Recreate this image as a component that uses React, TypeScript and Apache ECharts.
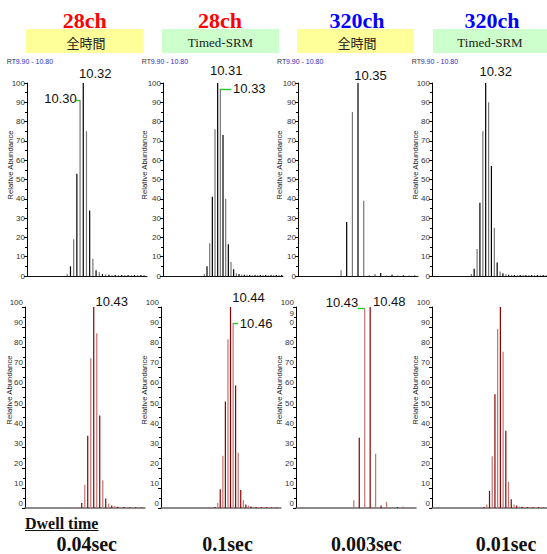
import React, { useEffect, useRef } from "react";
import * as echarts from "echarts";

// ---------- text ----------
const channelTitles = ["28ch", "28ch", "320ch", "320ch"];
const modeLabels = ["全時間", "Timed-SRM", "全時間", "Timed-SRM"];
const dwellTimes = ["0.04sec", "0.1sec", "0.003sec", "0.01sec"];
const dwellHeader = "Dwell time";
const rtRangeLabel = ["RT", "9.90 - 10.80"];
const yAxisName = "Relative Abundance";

// ---------- axes ----------
const rtRangeTop = [9.9, 10.8];
const rtRangeBottom = [9.8, 10.9];
const abundanceRange = [0, 100];
const abundanceStep = 10;

// ---------- data: top row ----------
const rtTop1 = [10.202, 10.226, 10.25, 10.274, 10.298, 10.322, 10.346, 10.37, 10.394, 10.418, 10.442, 10.466, 10.49, 10.514, 10.538, 10.562, 10.586, 10.61, 10.634, 10.658, 10.682, 10.706, 10.73, 10.754, 10.778];
const abTop1 = [1, 5, 19, 53, 91, 100, 75, 34, 9, 3, 2, 1, 0.8, 0.6, 0.5, 0.5, 0.5, 0.5, 0.5, 0.5, 0.5, 0.5, 0.5, 0.5, 0.5];

const rtTop2 = [10.21, 10.23, 10.25, 10.27, 10.29, 10.31, 10.33, 10.35, 10.37, 10.39, 10.41, 10.43, 10.45, 10.47, 10.49, 10.51, 10.53, 10.55, 10.57, 10.59, 10.61, 10.63, 10.65, 10.67, 10.69, 10.71, 10.73, 10.75, 10.77, 10.79];
const abTop2 = [1, 5, 17, 41, 76, 100, 97, 73, 40, 16.5, 7.3, 3.5, 1.4, 1, 0.8, 0.6, 0.6, 0.5, 0.5, 0.5, 0.5, 0.5, 0.5, 0.5, 0.5, 0.5, 0.5, 0.5, 0.5, 0.5];

const rtTop3 = [10.223, 10.265, 10.308, 10.35, 10.393, 10.435, 10.478, 10.52, 10.563, 10.605, 10.648, 10.69, 10.733, 10.775];
const abTop3 = [3, 28, 85, 100, 39, 0.3, 1, 1.5, 0.3, 0.6, 0.3, 0.4, 0.3, 0.3];

const rtTop4 = [10.208, 10.23, 10.253, 10.275, 10.298, 10.32, 10.343, 10.365, 10.388, 10.41, 10.433, 10.455, 10.478, 10.5, 10.523, 10.545, 10.568, 10.59, 10.613, 10.635, 10.658, 10.68, 10.703, 10.725, 10.748, 10.77, 10.793];
const abTop4 = [1, 3.8, 14, 38, 75, 100, 90, 57, 25, 7, 2.3, 1.4, 0.9, 0.7, 0.6, 0.5, 0.5, 0.5, 0.5, 0.5, 0.5, 0.5, 0.5, 0.5, 0.5, 0.5, 0.5];

// ---------- data: bottom row ----------
const rtBot1 = [10.293, 10.32, 10.348, 10.375, 10.403, 10.43, 10.458, 10.485, 10.513, 10.54, 10.568, 10.595, 10.623, 10.65, 10.678, 10.705, 10.733, 10.76, 10.788, 10.815, 10.843, 10.87];
const abBot1 = [0.5, 2.5, 11.6, 36, 74.5, 100, 87, 46, 13.8, 4.7, 2.2, 1.2, 1, 0.6, 0.5, 0.5, 0.4, 0.4, 0.4, 0.4, 0.3, 0.3];

const rtBot2 = [10.296, 10.32, 10.343, 10.367, 10.39, 10.414, 10.437, 10.461, 10.484, 10.508, 10.531, 10.555, 10.578, 10.602, 10.625, 10.649, 10.672, 10.696, 10.719, 10.743, 10.766, 10.79, 10.813, 10.837, 10.86];
const abBot2 = [0.5, 2.5, 9.3, 26, 53, 84, 100, 92, 61, 27.5, 9, 3.8, 1.8, 1.2, 0.8, 0.6, 0.5, 0.5, 0.4, 0.4, 0.4, 0.3, 0.3, 0.3, 0.3];

const rtBot3 = [10.33, 10.38, 10.43, 10.48, 10.53, 10.58, 10.63, 10.73, 10.78];
const abBot3 = [3.8, 35, 99.3, 100, 27, 1.2, 3, 0.5, 0.7];

const rtBot4 = [10.298, 10.324, 10.35, 10.376, 10.402, 10.428, 10.454, 10.48, 10.506, 10.532, 10.558, 10.584, 10.61, 10.636, 10.662, 10.688, 10.714, 10.74, 10.766, 10.792, 10.818, 10.844, 10.87];
const abBot4 = [0.5, 1.8, 8.5, 25.8, 56.6, 89, 100, 77.7, 38.4, 13, 4.3, 1.8, 1.2, 0.8, 0.6, 0.5, 0.5, 0.4, 0.4, 0.4, 0.4, 0.3, 0.3];

// ---------- peak labels (retention time of the labelled scan + text) ----------
const peaksTop1 = [{ rt: 10.322, text: "10.32" }, { rt: 10.298, text: "10.30" }];
const peaksTop2 = [{ rt: 10.31, text: "10.31" }, { rt: 10.33, text: "10.33" }];
const peaksTop3 = [{ rt: 10.35, text: "10.35" }];
const peaksTop4 = [{ rt: 10.32, text: "10.32" }];
const peaksBot1 = [{ rt: 10.43, text: "10.43" }];
const peaksBot2 = [{ rt: 10.437, text: "10.44" }, { rt: 10.461, text: "10.46" }];
const peaksBot3 = [{ rt: 10.48, text: "10.48" }, { rt: 10.43, text: "10.43" }];
const peaksBot4: { rt: number; text: string }[] = [];

// ---------- layout / style (pixels) ----------
const PLOT_W = 120;
const topLefts = [27, 163, 298, 432];
const botLefts = [25, 161, 296, 432];
const TOP_Y = 83, TOP_H = 193;
const BOT_Y = 307, BOT_H = 201;
// label offsets: [dx, dy, leaderPx] relative to bar top
const labelLayoutTop = [
  [[12, -10, 0], [-19.5, -2, -4]],
  [[8.5, -13, 0], [29, -0.5, 11]],
  [[12.5, -8, 0]],
  [[10, -12, 0]],
];
const labelLayoutBot = [
  [[18, -5.6, 0]],
  [[18, -10, 0], [23, 0.7, 5]],
  [[19, -6, 0], [-22.8, -5.6, -7]],
  [],
];
const titleCenters = [84.7, 220, 357, 492];
const titleColors = ["#ff0000", "#ff0000", "#0000ff", "#0000ff"];
const boxSpans = [[26, 143], [162, 279], [297, 414], [433, 547]];
const boxColors = ["#ffff99", "#ccffcc", "#ffff99", "#ccffcc"];
const rtLabelX = [6.7, 141.7, 277, 411.7];
const yNameXTop = [10.5, 144.5, 279.7, 415];
const yNameXBot = [9.5, 144, 279.7, 415.7];
const dwellCenters = [86.7, 227.5, 366.3, 506];

const SANS = "'Liberation Sans', Arial, sans-serif";
const SERIF = "'Liberation Serif', 'Times New Roman', serif";
const LEADER = "#22cc22";

export default function App() {
  const ref = useRef<HTMLDivElement>(null);

  useEffect(() => {
    document.body.style.margin = "0";
    if (!ref.current) return;
    const chart = echarts.init(ref.current, undefined, { renderer: "svg" });

    const panels = [
      { rt: rtTop1, ab: abTop1, peaks: peaksTop1, layout: labelLayoutTop[0], top: true, i: 0 },
      { rt: rtTop2, ab: abTop2, peaks: peaksTop2, layout: labelLayoutTop[1], top: true, i: 1 },
      { rt: rtTop3, ab: abTop3, peaks: peaksTop3, layout: labelLayoutTop[2], top: true, i: 2 },
      { rt: rtTop4, ab: abTop4, peaks: peaksTop4, layout: labelLayoutTop[3], top: true, i: 3 },
      { rt: rtBot1, ab: abBot1, peaks: peaksBot1, layout: labelLayoutBot[0], top: false, i: 0 },
      { rt: rtBot2, ab: abBot2, peaks: peaksBot2, layout: labelLayoutBot[1], top: false, i: 1 },
      { rt: rtBot3, ab: abBot3, peaks: peaksBot3, layout: labelLayoutBot[2], top: false, i: 2 },
      { rt: rtBot4, ab: abBot4, peaks: peaksBot4, layout: labelLayoutBot[3], top: false, i: 3 },
    ];

    const grid: any[] = [];
    const xAxis: any[] = [];
    const yAxis: any[] = [];
    const series: any[] = [];

    panels.forEach((p, idx) => {
      const range = p.top ? rtRangeTop : rtRangeBottom;
      const pxPerMin = PLOT_W / (range[1] - range[0]);
      grid.push({
        left: p.top ? topLefts[p.i] : botLefts[p.i],
        top: p.top ? TOP_Y : BOT_Y,
        width: PLOT_W,
        height: p.top ? TOP_H : BOT_H,
        containLabel: false,
      });
      xAxis.push({
        gridIndex: idx,
        type: "value",
        min: range[0],
        max: range[1],
        axisLine: {
          show: true,
          onZero: false,
          lineStyle: p.top ? { color: "#111", width: 1 } : { color: "#666", width: 1.5 },
        },
        axisTick: { show: false },
        axisLabel: { show: false },
        splitLine: { show: false },
      });
      const isOddPanel = !p.top && p.i === 2;
      yAxis.push({
        gridIndex: idx,
        type: "value",
        min: abundanceRange[0],
        max: abundanceRange[1],
        interval: abundanceStep,
        axisLine: { show: true, lineStyle: { color: "#000", width: 1 } },
        axisTick: { show: true, length: 3, lineStyle: { color: "#000", width: 1 } },
        minorTick: { show: true, splitNumber: 2, length: 2, lineStyle: { color: "#000", width: 1 } },
        splitLine: { show: false },
        minorSplitLine: { show: false },
        axisLabel: {
          fontSize: 8,
          color: "#333",
          margin: 2,
          fontFamily: SANS,
          verticalAlign: p.top ? "middle" : "bottom",
          lineHeight: 9,
          formatter: (v: number) => (isOddPanel && v === 90 ? "9\n0" : String(v)),
        },
      });

      const peakIdx = p.ab.indexOf(Math.max(...p.ab));
      const dark = p.top ? "#000000" : "#8b0000";
      const light = p.top ? "#767676" : "#c27272";

      const lookup = (rt: number) => p.ab[p.rt.indexOf(rt)];

      series.push({
        type: "bar",
        xAxisIndex: idx,
        yAxisIndex: idx,
        barWidth: 1.2,
        silent: true,
        data: p.rt.map((rt, k) => ({
          value: [rt, p.ab[k]],
          itemStyle: { color: Math.abs(k - peakIdx) % 2 === 0 ? dark : light },
        })),
        markPoint: {
          symbol: "circle",
          symbolSize: 1,
          itemStyle: { color: "rgba(0,0,0,0)" },
          silent: true,
          data: p.peaks.map((pk, j) => ({
            coord: [pk.rt, lookup(pk.rt)],
            label: {
              show: true,
              position: "inside",
              formatter: pk.text,
              offset: [p.layout[j][0], p.layout[j][1]],
              fontSize: 13,
              fontFamily: SANS,
              color: "#111",
              align: "center",
              verticalAlign: "middle",
            },
          })),
        },
        markLine: {
          symbol: ["none", "none"],
          silent: true,
          label: { show: false },
          lineStyle: { color: LEADER, width: 1.4, type: "solid", opacity: 1 },
          data: p.peaks
            .map((pk, j) => ({ pk, lay: p.layout[j] }))
            .filter((o) => o.lay[2] !== 0)
            .map((o) => [
              { coord: [o.pk.rt, lookup(o.pk.rt)], lineStyle: { color: LEADER, width: 1.4, opacity: 1 } },
              { coord: [o.pk.rt + o.lay[2] / pxPerMin, lookup(o.pk.rt)] },
            ]),
        },
      });
    });

    const centered = { align: "center", verticalAlign: "middle", textAlign: "center", textVerticalAlign: "middle" };
    const leftMid = { align: "left", verticalAlign: "middle", textAlign: "left", textVerticalAlign: "middle" };

    const graphic: any[] = [];
    for (let i = 0; i < 4; i++) {
      graphic.push({
        type: "rect",
        shape: { x: boxSpans[i][0], y: 29, width: boxSpans[i][1] - boxSpans[i][0], height: 24 },
        style: { fill: boxColors[i] },
        silent: true,
      });
      graphic.push({
        type: "text",
        x: titleCenters[i],
        y: 20,
        style: { text: channelTitles[i], fill: titleColors[i], fontSize: 22, fontWeight: "bold", fontFamily: SERIF, ...centered },
      });
      const isCJK = modeLabels[i] === "全時間";
      graphic.push({
        type: "text",
        x: (boxSpans[i][0] + boxSpans[i][1]) / 2 + (isCJK ? 1.5 : 0),
        y: 42,
        style: {
          text: modeLabels[i],
          fill: "#222",
          fontSize: 13,
          fontFamily: isCJK ? "'Noto Sans CJK JP', sans-serif" : SERIF,
          ...centered,
        },
      });
      graphic.push({
        type: "text",
        x: rtLabelX[i],
        y: 61,
        style: { text: rtRangeLabel[0], fill: "#333", fontSize: 7, fontFamily: SANS, ...leftMid },
      });
      graphic.push({
        type: "text",
        x: rtLabelX[i] + 9,
        y: 61,
        style: { text: rtRangeLabel[1], fill: "#2a2acc", fontSize: 7, fontFamily: SANS, ...leftMid },
      });
      graphic.push({
        type: "text",
        x: yNameXTop[i],
        y: 165,
        rotation: Math.PI / 2,
        style: { text: yAxisName, fill: "#222", fontSize: 7.8, fontFamily: SANS, ...centered },
      });
      graphic.push({
        type: "text",
        x: yNameXBot[i],
        y: 390,
        rotation: Math.PI / 2,
        style: { text: yAxisName, fill: "#222", fontSize: 7.8, fontFamily: SANS, ...centered },
      });
      graphic.push({
        type: "text",
        x: dwellCenters[i],
        y: 544,
        style: { text: dwellTimes[i], fill: "#111", fontSize: 20, fontWeight: "bold", fontFamily: SERIF, ...centered },
      });
    }
    graphic.push({
      type: "text",
      x: 25,
      y: 523,
      style: { text: dwellHeader, fill: "#111", fontSize: 16, fontWeight: "bold", fontFamily: SERIF, ...leftMid },
    });
    graphic.push({
      type: "line",
      shape: { x1: 25, y1: 530.5, x2: 98.5, y2: 530.5 },
      style: { stroke: "#111", lineWidth: 1.2 },
    });

    chart.setOption({
      animation: false,
      backgroundColor: "#ffffff",
      textStyle: { fontFamily: SANS },
      grid,
      xAxis,
      yAxis,
      series,
      graphic,
    });

    return () => chart.dispose();
  }, []);

  return <div ref={ref} style={{ width: 547, height: 554 }} />;
}
